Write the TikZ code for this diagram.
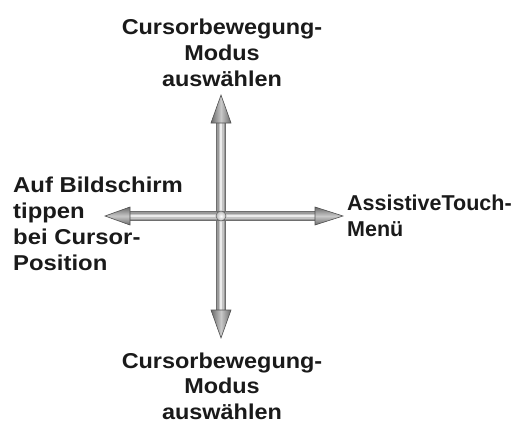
\documentclass[tikz,border=0pt]{standalone}
\usepackage{fontspec}
\newfontfamily\labfontA{Liberation Sans}[FakeStretch=1.09]
\newfontfamily\labfontB{Liberation Sans}[FakeStretch=1.11]
\newfontfamily\labfontC{Liberation Sans}
\usetikzlibrary{calc}
\definecolor{shA}{HTML}{6E6E6E}
\definecolor{shB}{HTML}{9A9A9A}
\definecolor{shC}{HTML}{C4C4C4}
\definecolor{shD}{HTML}{ECECEC}
\definecolor{headdark}{HTML}{6A6A6A}
\definecolor{headlight}{HTML}{C8C8C8}
\definecolor{headline}{HTML}{505050}
\definecolor{txt}{HTML}{1A1A1A}
\tikzset{
  lab/.style={font=\bfseries\fontsize{21.5}{25.8}\selectfont, text=txt, inner sep=0pt},
  shaftA/.style={draw=shA, line width=10pt},
  shaftB/.style={draw=shB, line width=7.5pt},
  shaftC/.style={draw=shC, line width=5pt},
  shaftD/.style={draw=shD, line width=2.5pt},
  headv/.style={left color=headdark, right color=headdark, middle color=headlight, draw=headline, line width=0.6pt, line join=miter},
  headh/.style={top color=headdark, bottom color=headdark, middle color=headlight, draw=headline, line width=0.6pt, line join=miter},
}
\newcommand{\shaft}[2]{%
  \draw[shaftA] (#1) -- (#2);
  \draw[shaftB] (#1) -- (#2);
  \draw[shaftC] (#1) -- (#2);
  \draw[shaftD] (#1) -- (#2);
}
\begin{document}
\begin{tikzpicture}[x=1pt,y=1pt]
\useasboundingbox (0,0) rectangle (518,-425);
% centre and tips
\coordinate (c) at (221,-216);
\coordinate (tu) at (221,-95);
\coordinate (td) at (221,-338);
\coordinate (tl) at (105,-216);
\coordinate (tr) at (343,-216);
\coordinate (bu) at ($(tu)+(0,-28)$);
\coordinate (bd) at ($(td)+(0,28)$);
\coordinate (bl) at ($(tl)+(25,0)$);
\coordinate (br) at ($(tr)+(-28,0)$);
% shafts
\shaft{c}{bu}
\shaft{c}{bd}
\shaft{c}{bl}
\shaft{c}{br}
% heads
\shade[headv] (tu) -- ($(bu)+(-10,0)$) -- ($(bu)+(10,0)$) -- cycle;
\shade[headv] (td) -- ($(bd)+(-10,0)$) -- ($(bd)+(10,0)$) -- cycle;
\shade[headh] (tl) -- ($(bl)+(0,9)$) -- ($(bl)+(0,-9)$) -- cycle;
\shade[headh] (tr) -- ($(br)+(0,9)$) -- ($(br)+(0,-9)$) -- cycle;
% centre knob
\shade[inner color=white, outer color=gray!55, draw=gray!80!black, line width=0.6pt] (c) circle (5);
% labels (anchor base = baseline of last line)
\node[lab, font=\labfontA\bfseries\fontsize{21.5}{26}\selectfont, align=center, anchor=base] (top) at (222,-87) {Cursorbewegung-\\Modus\\auswählen};
\node[lab, font=\labfontB\bfseries\fontsize{21.5}{25.7}\selectfont, align=left, anchor=base west] (left) at (13,-270) {Auf Bildschirm\\tippen\\bei Cursor-\\Position};
\node[lab, font=\labfontC\bfseries\fontsize{21.5}{26}\selectfont, align=left, anchor=base west] (right) at (347,-236) {AssistiveTouch-\\Menü};
\node[lab, font=\labfontA\bfseries\fontsize{21.5}{25.5}\selectfont, align=center, anchor=base] (bottom) at (222,-419) {Cursorbewegung-\\Modus\\auswählen};
\end{tikzpicture}
\end{document}
